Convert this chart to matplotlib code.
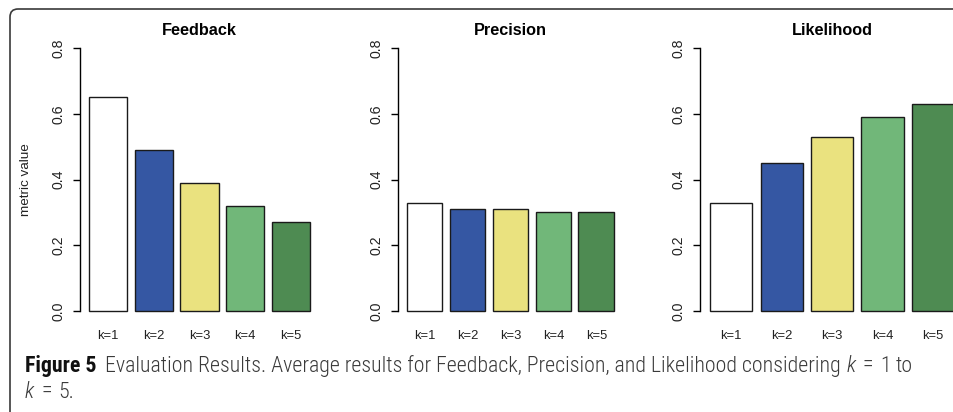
import matplotlib
matplotlib.use("Agg")
import matplotlib.pyplot as plt
from matplotlib.patches import FancyBboxPatch
from matplotlib.transforms import IdentityTransform

# ---- data ----
categories = ["k=1", "k=2", "k=3", "k=4", "k=5"]
feedback = [0.65, 0.49, 0.39, 0.32, 0.27]
precision = [0.33, 0.31, 0.31, 0.30, 0.30]
likelihood = [0.33, 0.45, 0.53, 0.59, 0.63]
panel_titles = ["Feedback", "Precision", "Likelihood"]
ytick_values = [0.0, 0.2, 0.4, 0.6, 0.8]
ytick_labels = ["0.0", "0.2", "0.4", "0.6", "0.8"]
bar_colors = ["#FFFFFF", "#3557A3", "#EAE27F", "#71B779", "#4E8B52"]
ylabel_text = "metric value"

W, H = 954, 412
fig = plt.figure(figsize=(W / 100, H / 100), dpi=100)
fig.patch.set_facecolor("white")

AX_FONT = ["Liberation Sans", "DejaVu Sans"]

# panel geometry in pixels (left, width); shared top/bottom
panels = [(80.0, 239.0), (398.3, 224.3), (700.3, 263.5)]
top_px, bot_px = 37.5, 321.5

# R barplot positions: width 1, space 0.2
centers = [0.2 + 0.5 + i * 1.2 for i in range(len(categories))]
xlim = (0.2 - 0.232, 6.0 + 0.232)

series = [feedback, precision, likelihood]
axes = []
for (left, width), vals, title in zip(panels, series, panel_titles):
    ax = fig.add_axes([left / W, 1 - bot_px / H, width / W, (bot_px - top_px) / H])
    ax.set_facecolor("none")
    ax.bar(centers, vals, width=1.0, color=bar_colors, edgecolor="#1a1a1a",
           linewidth=1.0, zorder=3)
    ax.set_xlim(*xlim)
    ax.set_ylim(-0.032, 0.832)
    for s in ["top", "right", "bottom"]:
        ax.spines[s].set_visible(False)
    ax.spines["left"].set_bounds(0, 0.8)
    ax.spines["left"].set_linewidth(1.0)
    ax.set_yticks(ytick_values)
    ax.set_yticklabels(ytick_labels, rotation=90, va="center",
                       family=AX_FONT, fontsize=10.2, color="#222222")
    ax.tick_params(axis="y", length=5, width=1.0, pad=5.5)
    ax.set_xticks(centers)
    ax.set_xticklabels(categories, family=AX_FONT, fontsize=9.4, color="#222222")
    ax.tick_params(axis="x", length=0, pad=6.0)
    ax.set_title(title, family=AX_FONT, fontsize=11.7, fontweight="bold", pad=0)
    axes.append(ax)

fig.text(26 / W, 1 - 179.5 / H, ylabel_text, rotation=90, ha="center", va="center",
         family=AX_FONT, fontsize=9.7, color="#222222")

# ---- figure frame (rounded box, cut by the image edges) ----
frame = FancyBboxPatch((10, -40), W + 40, (H - 9) + 40,
                       boxstyle="round,pad=0,rounding_size=8",
                       transform=IdentityTransform(), fill=False,
                       edgecolor="#3a3a3a", linewidth=1.2)
fig.patches.append(frame)

# ---- caption ----
CAP_FONT = ["Roboto Condensed", "Roboto", "DejaVu Sans"]
renderer = fig.canvas.get_renderer()

def measure(txt, size, **kw):
    t = fig.text(0, 0, txt, fontsize=size, family=CAP_FONT, **kw)
    w = t.get_window_extent(renderer).width
    t.remove()
    return w

REG = dict(color="#3a3a3a", fontweight="light")
ITA = dict(color="#3a3a3a", fontweight="light", style="italic")
line1 = [("Figure 5", dict(fontweight="bold", color="#111111")),
         ("Evaluation Results. Average results for Feedback, Precision, and Likelihood considering", REG),
         ("k", ITA),
         ("=", REG),
         ("1", REG),
         ("to", REG)]
gaps1 = [1.8, 1.0, 1.4, 1.4, 1.0]
line2 = [("k", ITA),
         ("=", REG),
         ("5.", REG)]
gaps2 = [1.4, 1.4]

def line_width(pieces, gaps, size):
    sp = measure("x x", size) - measure("xx", size)
    return sum(measure(t, size, **kw) for t, kw in pieces) + sp * sum(gaps)

target = 913 - 25
base = 12.0
cap_size = base * target / line_width(line1, gaps1, base)

def draw_line(pieces, gaps, x, y_base, size):
    sp = measure("x x", size) - measure("xx", size)
    for i, (txt, kw) in enumerate(pieces):
        t = fig.text(x / W, 1 - y_base / H, txt, fontsize=size, family=CAP_FONT,
                     ha="left", va="baseline", **kw)
        x += t.get_window_extent(renderer).width
        if i < len(gaps):
            x += sp * gaps[i]

draw_line(line1, gaps1, 25, 372, cap_size)
draw_line(line2, gaps2, 25, 398, cap_size)

fig.savefig("out.png", dpi=100, facecolor="white")
